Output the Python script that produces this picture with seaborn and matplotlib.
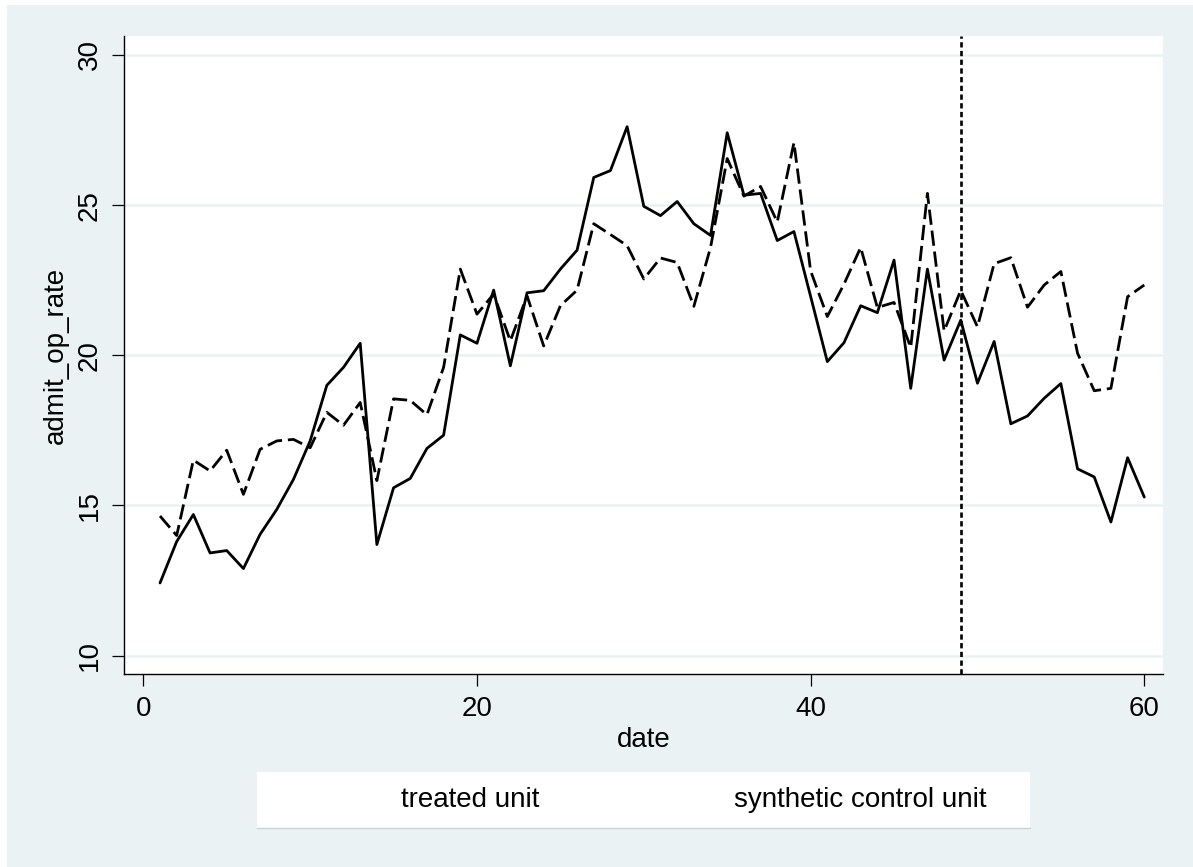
import numpy as np
import pandas as pd
import matplotlib
matplotlib.use("Agg")
import matplotlib.pyplot as plt
from matplotlib.patches import Rectangle
from matplotlib.lines import Line2D
import seaborn as sns

# ---- data ----
dates = list(range(1, 61))
treated = [12.42, 13.8, 14.7, 13.42, 13.5, 12.9, 14.04, 14.87, 15.87, 17.15,
           19.0, 19.6, 20.4, 13.7, 15.59, 15.9, 16.9, 17.34, 20.68, 20.4,
           22.17, 19.65, 22.08, 22.15, 22.87, 23.5, 25.92, 26.15, 27.61, 24.96,
           24.65, 25.12, 24.38, 23.99, 27.41, 25.33, 25.39, 23.82, 24.12, 21.96,
           19.79, 20.42, 21.65, 21.42, 23.17, 18.9, 22.87, 19.84, 21.17, 19.07,
           20.46, 17.72, 17.98, 18.57, 19.06, 16.22, 15.95, 14.45, 16.59, 15.28]
synthetic = [14.65, 14.0, 16.51, 16.15, 16.84, 15.37, 16.87, 17.15, 17.2, 16.92,
             18.1, 17.67, 18.43, 15.83, 18.55, 18.5, 18.02, 19.6, 22.87, 21.37,
             22.04, 20.48, 21.98, 20.31, 21.65, 22.17, 24.38, 24.02, 23.65, 22.54,
             23.24, 23.09, 21.63, 23.59, 26.55, 25.3, 25.62, 24.44, 27.08, 22.81,
             21.29, 22.37, 23.59, 21.59, 21.76, 20.26, 25.39, 20.81, 22.16, 20.95,
             23.05, 23.25, 21.6, 22.34, 22.79, 20.07, 18.82, 18.9, 21.95, 22.34]
treatment_date = 49
x_ticks = [0, 20, 40, 60]
y_ticks = [10, 15, 20, 25, 30]
legend_labels = ["treated unit", "synthetic control unit"]

df = pd.DataFrame({"date": dates, "treated": treated, "synthetic": synthetic})

sns.set_theme(style="white")
plt.rcParams["font.family"] = ["Liberation Sans", "DejaVu Sans"]

BG = "#EAF2F3"
W, H = 1193, 867
fig = plt.figure(figsize=(W / 100, H / 100), dpi=100, facecolor="white")
fig.patches.append(Rectangle((7 / W, 0), 1 - 7 / W, (H - 5) / H,
                             transform=fig.transFigure, facecolor=BG,
                             edgecolor="none", zorder=-10))

ax = fig.add_axes([124.3 / W, (H - 674.3) / H, (1163.3 - 124.3) / W, (674.3 - 36) / H])
ax.set_facecolor("white")

sns.lineplot(data=df, x="date", y="treated", ax=ax, color="black",
             linewidth=2.0, zorder=3)
sns.lineplot(data=df, x="date", y="synthetic", ax=ax, color="black",
             linewidth=2.0, linestyle=(0, (5.5, 2.1)), zorder=3)
ax.axvline(treatment_date, color="black", linewidth=1.9,
           linestyle=(0, (2.0, 1.3)), zorder=4)

ax.set_xlim(-1.14, 61.14)
ax.set_ylim(9.38, 30.63)
ax.set_xticks(x_ticks)
ax.set_yticks(y_ticks)
ax.set_yticklabels([str(v) for v in y_ticks], rotation=90, va="center")
ax.yaxis.grid(True, color=BG, linewidth=1.8, zorder=0)
ax.xaxis.grid(False)
ax.set_axisbelow(True)

for s in ["top", "right"]:
    ax.spines[s].set_visible(False)
for s in ["left", "bottom"]:
    ax.spines[s].set_color("black")
    ax.spines[s].set_linewidth(1.0)

ax.tick_params(axis="both", direction="out", length=8.5, width=0.9,
               color="black", labelsize=20, labelcolor="black",
               left=True, bottom=True, pad=7)
ax.set_xlabel("date", fontsize=20, color="black", labelpad=4)
ax.set_ylabel("admit_op_rate", fontsize=20, color="black", labelpad=6)

# legend (text-only box, Stata style)
lx0, lx1, ly0, ly1 = 257, 1030, 772, 828
fig.patches.append(Rectangle((lx0 / W, (H - ly1) / H), (lx1 - lx0) / W, (ly1 - ly0) / H,
                             transform=fig.transFigure, facecolor="white",
                             edgecolor="none", zorder=1))
fig.lines.append(Line2D([lx0 / W, lx1 / W], [(H - ly1) / H, (H - ly1) / H],
                        transform=fig.transFigure, color="#C9D2D4", linewidth=1.0))
fig.text(470 / W, (H - 800) / H, legend_labels[0], fontsize=20, ha="center",
         va="center", color="black")
fig.text(860 / W, (H - 800) / H, legend_labels[1], fontsize=20, ha="center",
         va="center", color="black")

fig.savefig("out.png", dpi=100, facecolor="white")
